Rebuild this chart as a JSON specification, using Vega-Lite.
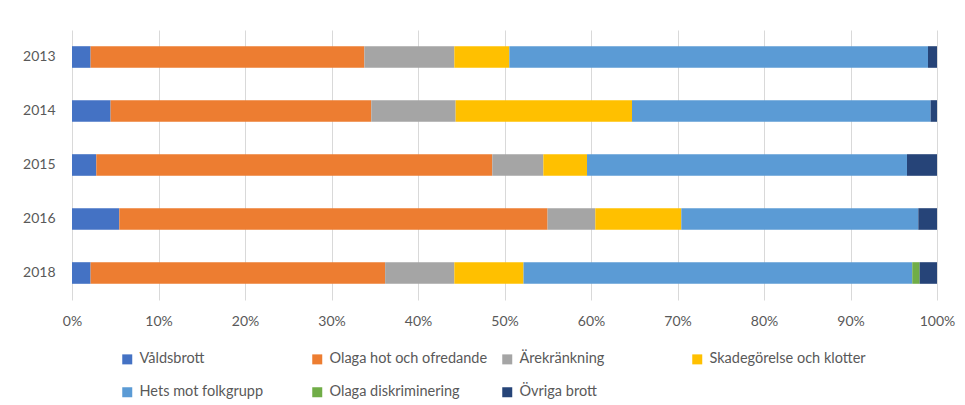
{
  "$schema": "https://vega.github.io/schema/vega-lite/v6.json",
  "autosize": {"type": "none"},
  "width": 865,
  "height": 270,
  "padding": {"left": 72, "top": 30, "right": 28, "bottom": 105},
  "background": "#ffffff",
  "config": {
    "font": "Lato",
    "view": {"stroke": null},
    "axis": {"labelFont": "Lato", "labelColor": "#595959", "labelFontSize": 14},
    "legend": {"labelFont": "Lato", "labelColor": "#595959", "labelFontSize": 14.5}
  },
  "data": {
    "values": [
      {"year": "2013", "cat": "Våldsbrott", "v": 2.15},
      {"year": "2013", "cat": "Olaga hot och ofredande", "v": 31.65},
      {"year": "2013", "cat": "Ärekränkning", "v": 10.4},
      {"year": "2013", "cat": "Skadegörelse och klotter", "v": 6.36},
      {"year": "2013", "cat": "Hets mot folkgrupp", "v": 48.4},
      {"year": "2013", "cat": "Olaga diskriminering", "v": 0},
      {"year": "2013", "cat": "Övriga brott", "v": 1.04},
      {"year": "2014", "cat": "Våldsbrott", "v": 4.46},
      {"year": "2014", "cat": "Olaga hot och ofredande", "v": 30.14},
      {"year": "2014", "cat": "Ärekränkning", "v": 9.75},
      {"year": "2014", "cat": "Skadegörelse och klotter", "v": 20.39},
      {"year": "2014", "cat": "Hets mot folkgrupp", "v": 34.52},
      {"year": "2014", "cat": "Olaga diskriminering", "v": 0},
      {"year": "2014", "cat": "Övriga brott", "v": 0.74},
      {"year": "2015", "cat": "Våldsbrott", "v": 2.81},
      {"year": "2015", "cat": "Olaga hot och ofredande", "v": 45.78},
      {"year": "2015", "cat": "Ärekränkning", "v": 5.9},
      {"year": "2015", "cat": "Skadegörelse och klotter", "v": 5.05},
      {"year": "2015", "cat": "Hets mot folkgrupp", "v": 36.99},
      {"year": "2015", "cat": "Olaga diskriminering", "v": 0},
      {"year": "2015", "cat": "Övriga brott", "v": 3.47},
      {"year": "2016", "cat": "Våldsbrott", "v": 5.47},
      {"year": "2016", "cat": "Olaga hot och ofredande", "v": 49.51},
      {"year": "2016", "cat": "Ärekränkning", "v": 5.52},
      {"year": "2016", "cat": "Skadegörelse och klotter", "v": 9.94},
      {"year": "2016", "cat": "Hets mot folkgrupp", "v": 27.4},
      {"year": "2016", "cat": "Olaga diskriminering", "v": 0},
      {"year": "2016", "cat": "Övriga brott", "v": 2.16},
      {"year": "2018", "cat": "Våldsbrott", "v": 2.15},
      {"year": "2018", "cat": "Olaga hot och ofredande", "v": 34.05},
      {"year": "2018", "cat": "Ärekränkning", "v": 8.0},
      {"year": "2018", "cat": "Skadegörelse och klotter", "v": 8.0},
      {"year": "2018", "cat": "Hets mot folkgrupp", "v": 44.94},
      {"year": "2018", "cat": "Olaga diskriminering", "v": 0.85},
      {"year": "2018", "cat": "Övriga brott", "v": 2.01}
    ]
  },
  "transform": [
    {"calculate": "indexof(['Våldsbrott', 'Olaga hot och ofredande', 'Ärekränkning', 'Skadegörelse och klotter', 'Hets mot folkgrupp', 'Olaga diskriminering', 'Övriga brott'], datum.cat)", "as": "k"}
  ],
  "mark": {"type": "bar"},
  "encoding": {
    "y": {
      "field": "year",
      "type": "nominal",
      "scale": {"paddingInner": 0.6, "paddingOuter": 0.3},
      "axis": {"title": null, "ticks": false, "domain": false, "grid": false, "labelPadding": 17}
    },
    "x": {
      "field": "v",
      "type": "quantitative",
      "stack": "normalize",
      "scale": {"domain": [0, 1], "nice": false},
      "axis": {
        "title": null,
        "format": ".0%",
        "values": [0, 0.1, 0.2, 0.3, 0.4, 0.5, 0.6, 0.7, 0.8, 0.9, 1],
        "ticks": false,
        "domain": false,
        "grid": true,
        "gridColor": "#d9d9d9",
        "gridWidth": 1,
        "labelFlush": false,
        "labelPadding": 14
      }
    },
    "order": {"field": "k", "type": "quantitative"},
    "color": {
      "field": "cat",
      "type": "nominal",
      "sort": ["Våldsbrott", "Olaga hot och ofredande", "Ärekränkning", "Skadegörelse och klotter", "Hets mot folkgrupp", "Olaga diskriminering", "Övriga brott"],
      "scale": {
        "domain": ["Våldsbrott", "Olaga hot och ofredande", "Ärekränkning", "Skadegörelse och klotter", "Hets mot folkgrupp", "Olaga diskriminering", "Övriga brott"],
        "range": ["#4472C4", "#ED7D31", "#A5A5A5", "#FFC000", "#5B9BD5", "#70AD47", "#264478"]
      },
      "legend": {
        "title": null,
        "orient": "none",
        "legendX": 48,
        "legendY": 322,
        "direction": "horizontal",
        "columns": 4,
        "gridAlign": "all",
        "columnPadding": 12,
        "rowPadding": 18,
        "symbolType": "square",
        "symbolSize": 100,
        "symbolStrokeWidth": 0,
        "labelOffset": 5,
        "labelLimit": 300
      }
    }
  }
}
